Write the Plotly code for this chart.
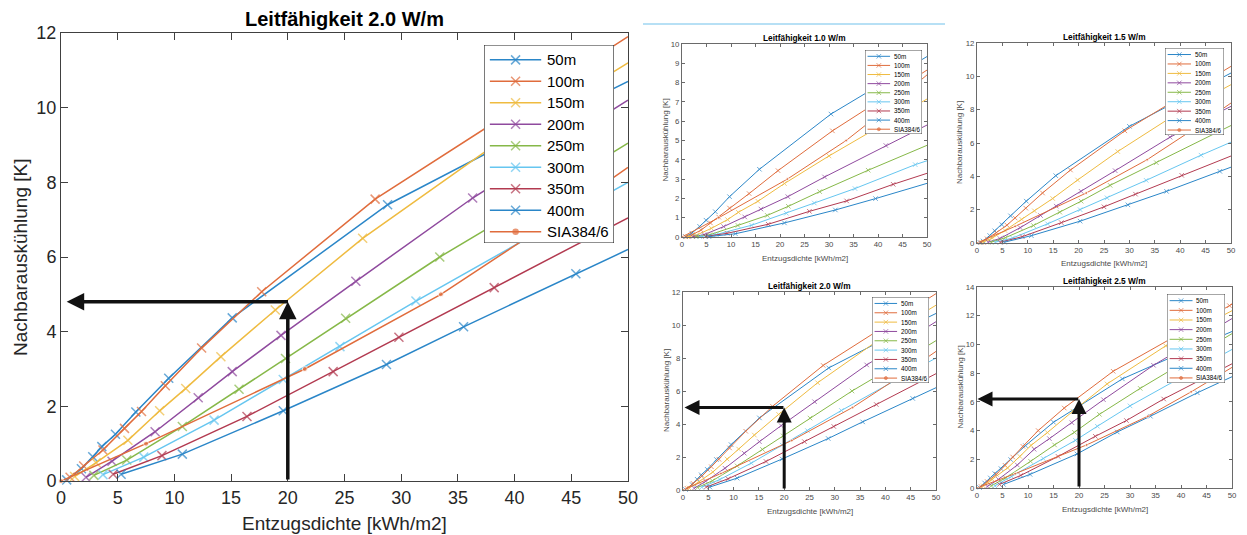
import plotly.graph_objects as go

W, H = 1247, 535
OFF = 8  # Seitenrand des Browsers (body margin)

DEPTHS = ["50m", "100m", "150m", "200m", "250m", "300m", "350m", "400m"]
SIA_NAME = "SIA384/6"
TITLES = ["Leitfähigkeit 2.0 W/m", "Leitfähigkeit 1.0 W/m", "Leitfähigkeit 1.5 W/m",
          "Leitfähigkeit 2.0 W/m", "Leitfähigkeit 2.5 W/m"]
X_TITLE = "Entzugsdichte [kWh/m2]"
Y_TITLE = "Nachbarauskühlung [K]"
X_TICKS = [0, 5, 10, 15, 20, 25, 30, 35, 40, 45, 50]

# --- Leitfähigkeit 1.0 W/m ---
K10_X = [
    [0.7, 2.0, 3.6, 4.9, 6.8, 9.7, 15.8, 30.4, 42.0, 50],
    [0.8, 2.1, 3.9, 5.8, 7.5, 9.7, 13.7, 19.6, 30.7, 42.0, 50],
    [1.2, 3.0, 6.0, 9.3, 11.5, 15.5, 20.9, 30.0, 40.5, 50],
    [2.2, 4.5, 8.5, 12.8, 16.1, 21.6, 29.1, 41.6, 50],
    [2.9, 5.7, 11.4, 17.4, 21.7, 28.1, 38.0, 50],
    [3.6, 7.0, 14.2, 21.3, 27.0, 35.3, 47.6, 50],
    [4.8, 9.2, 17.6, 26.0, 33.6, 43.1, 50],
    [5.5, 10.9, 20.9, 31.3, 39.5, 50],
]
K10_Y = [
    [0.02, 0.2, 0.55, 0.87, 1.31, 2.09, 3.51, 6.37, 8.15, 9.35],
    [0.01, 0.12, 0.36, 0.73, 1.03, 1.5, 2.25, 3.44, 5.5, 7.34, 8.65],
    [0.01, 0.1, 0.45, 0.9, 1.28, 1.85, 2.77, 4.2, 5.75, 7.15],
    [0.02, 0.12, 0.54, 1.04, 1.45, 2.09, 3.11, 4.74, 5.8],
    [0.02, 0.12, 0.6, 1.12, 1.59, 2.35, 3.46, 4.75],
    [0.02, 0.13, 0.61, 1.23, 1.76, 2.51, 3.75, 3.95],
    [0.03, 0.19, 0.66, 1.33, 1.87, 2.73, 3.3],
    [0.02, 0.17, 0.73, 1.4, 1.99, 2.78],
]

# --- Leitfähigkeit 1.5 W/m ---
K15_X = [
    [0.6, 1.2, 2.5, 3.5, 4.9, 6.6, 9.7, 15.5, 30.0, 40.0, 50],
    [0.8, 2.0, 3.8, 5.9, 7.5, 9.6, 12.9, 18.4, 29.1, 40.0, 50],
    [1.2, 3.0, 5.5, 8.8, 11.3, 14.9, 19.8, 27.7, 38.5, 50],
    [2.2, 4.5, 8.5, 12.5, 15.6, 20.5, 27.2, 38.0, 50],
    [2.8, 5.6, 11.1, 16.3, 20.5, 26.2, 35.3, 50],
    [3.6, 7.0, 13.9, 20.3, 25.6, 33.3, 44.1, 50],
    [4.6, 8.9, 16.6, 25.0, 31.2, 40.3, 50],
    [5.4, 10.7, 20.3, 29.7, 37.3, 47.8, 50],
]
K15_Y = [
    [0.02, 0.12, 0.45, 0.73, 1.1, 1.63, 2.51, 4.04, 7.0, 8.6, 10.2],
    [0.03, 0.25, 0.62, 1.07, 1.5, 2.09, 3.0, 4.38, 6.73, 8.75, 10.6],
    [0.04, 0.3, 0.75, 1.42, 1.93, 2.67, 3.78, 5.49, 7.6, 9.5],
    [0.05, 0.27, 0.92, 1.65, 2.21, 3.1, 4.34, 6.35, 8.2],
    [0.05, 0.32, 1.05, 1.85, 2.51, 3.46, 4.82, 7.05],
    [0.05, 0.3, 1.15, 2.0, 2.71, 3.76, 5.27, 6.05],
    [0.05, 0.38, 1.22, 2.17, 2.93, 4.06, 5.22],
    [0.05, 0.44, 1.31, 2.29, 3.1, 4.3, 4.55],
]

# --- Leitfähigkeit 2.0 W/m ---
K20_X = [
    [0.5, 1.8, 2.8, 3.6, 4.8, 6.6, 9.5, 15.1, 28.8, 44.0, 50],
    [0.8, 2.0, 3.7, 5.6, 7.1, 9.2, 12.4, 17.7, 27.7, 40.0, 50],
    [1.2, 3.1, 5.9, 8.7, 11.0, 14.1, 18.9, 26.6, 38.0, 50],
    [2.2, 4.5, 8.3, 12.1, 15.1, 19.4, 26.0, 36.3, 50],
    [2.9, 5.8, 10.7, 15.7, 19.8, 25.1, 33.4, 42.5, 50],
    [3.7, 7.3, 13.5, 19.6, 24.6, 31.3, 42.0, 50],
    [4.6, 8.9, 16.4, 24.0, 29.8, 38.2, 50],
    [5.3, 10.7, 19.6, 28.7, 35.5, 45.4, 50],
]
K20_Y = [
    [0.03, 0.33, 0.65, 0.92, 1.25, 1.85, 2.75, 4.37, 7.4, 9.8, 10.7],
    [0.1, 0.4, 0.83, 1.41, 1.86, 2.55, 3.56, 5.07, 7.55, 9.95, 11.9],
    [0.12, 0.49, 1.09, 1.88, 2.48, 3.33, 4.58, 6.5, 8.95, 11.2],
    [0.1, 0.53, 1.32, 2.23, 2.93, 3.9, 5.35, 7.58, 10.2],
    [0.15, 0.56, 1.46, 2.46, 3.28, 4.36, 6.0, 7.65, 9.05],
    [0.17, 0.64, 1.63, 2.72, 3.6, 4.82, 6.65, 8.0],
    [0.18, 0.68, 1.73, 2.93, 3.85, 5.18, 7.05],
    [0.18, 0.72, 1.88, 3.12, 4.13, 5.55, 6.2],
]

# --- Leitfähigkeit 2.5 W/m ---
K25_X = [
    [0.5, 1.5, 2.6, 3.5, 4.7, 6.6, 9.5, 15.0, 28.5, 40.0, 50],
    [0.8, 2.0, 3.8, 5.5, 7.0, 9.0, 12.0, 17.1, 26.7, 38.0, 49.5, 50],
    [1.2, 3.0, 6.0, 8.4, 10.6, 13.8, 18.8, 25.5, 37.0, 50],
    [2.0, 4.2, 7.9, 11.2, 14.2, 18.6, 24.8, 34.6, 50],
    [2.8, 5.6, 10.5, 15.2, 19.1, 24.0, 32.0, 42.0, 50],
    [3.5, 6.8, 13.0, 19.3, 23.6, 30.0, 40.0, 50],
    [4.4, 8.6, 15.9, 23.2, 29.3, 36.6, 50],
    [5.2, 10.4, 19.6, 27.5, 34.0, 43.2, 50],
]
K25_Y = [
    [0.03, 0.35, 0.7, 1.0, 1.35, 1.98, 2.95, 4.58, 7.6, 9.4, 10.9],
    [0.1, 0.45, 0.95, 1.58, 2.16, 2.9, 4.0, 5.57, 8.13, 10.4, 12.7, 12.8],
    [0.15, 0.6, 1.4, 2.2, 2.97, 3.86, 5.35, 7.25, 9.9, 12.35],
    [0.1, 0.6, 1.6, 2.7, 3.44, 4.55, 6.15, 8.55, 11.8],
    [0.15, 0.7, 1.86, 3.0, 3.88, 5.13, 6.94, 9.05, 10.75],
    [0.15, 0.8, 2.05, 3.32, 4.3, 5.72, 7.7, 9.65],
    [0.25, 0.88, 2.2, 3.6, 4.7, 6.2, 8.65],
    [0.25, 0.95, 2.37, 3.9, 5.0, 6.63, 7.75],
]

# --- Richtwert SIA 384/6 (gleich in allen Diagrammen) ---
SIA_X = [0, 7.5, 21.5, 33.5, 42.0, 50]
SIA_Y = [0, 1.0, 3.0, 5.0, 6.7, 8.4]

# --- Ablesepfeile (x = Entzugsdichte, y = Nachbarauskühlung) ---
ARROW_K20_BIG = [20, 4.8]
ARROW_K20_SMALL = [20, 5.0]
ARROW_K25 = [20, 6.2]

COLORS = ["#2a86c8", "#e06c3c", "#efbb40", "#8f4a9e", "#86b848", "#66c6f0", "#b23a50", "#2a86c8"]
SIA_COLOR = "#e06c3c"
FONT = "Liberation Sans, Arial, sans-serif"


def px(x):
    return (x - OFF) / W


def py(y):
    return 1 - (y - OFF) / H


BIG = dict(tick=18, axis=19, title=20, leg=15, lw=1.5, ms=9, mlw=1.5, sia_ms=5,
           ticklen=7, arrow_w=3.5, xt_off=42, yt_off=41, title_off=14, legw=1.2,
           ax_color="#404040", txt="#262626")
SMALL = dict(tick=7.8, axis=8, title=8.3, leg=6.3, lw=1, ms=4.5, mlw=1, sia_ms=3,
             ticklen=3, arrow_w=3, xt_off=21, yt_off=17, title_off=6, legw=0.8,
             ax_color="#6a6a6a", txt="#4a4a4a")

# box = (links, oben, rechts, unten) in Pixeln
panels = [
    dict(xs=K20_X, ys=K20_Y, title=TITLES[0], box=(61, 33, 628, 481), ymax=12, dy=2,
         leg=(484, 45, 614, 243), arrow=ARROW_K20_BIG, tip=0.5, st=BIG),
    dict(xs=K10_X, ys=K10_Y, title=TITLES[1], box=(682, 44, 927, 237), ymax=10, dy=1,
         leg=(865, 50, 922, 134), arrow=None, tip=0, st=SMALL),
    dict(xs=K15_X, ys=K15_Y, title=TITLES[2], box=(977, 43, 1231, 243), ymax=12, dy=2,
         leg=(1165, 48, 1224, 135), arrow=None, tip=0, st=SMALL),
    dict(xs=K20_X, ys=K20_Y, title=TITLES[3], box=(683, 292, 936, 490), ymax=12, dy=2,
         leg=(872, 297, 929, 383), arrow=ARROW_K20_SMALL, tip=0.3, st=SMALL),
    dict(xs=K25_X, ys=K25_Y, title=TITLES[4], box=(977, 287, 1232, 488), ymax=14, dy=2,
         leg=(1167, 294, 1225, 383), arrow=ARROW_K25, tip=0.1, st=SMALL),
]

fig = go.Figure()
layout = {}
annotations = []
shapes = []
n = len(panels)

for i, p in enumerate(panels):
    st = p["st"]
    k = i + 1
    xa, ya = ("x", "y") if k == 1 else (f"x{k}", f"y{k}")
    kl = k + n
    lxa, lya = f"x{kl}", f"y{kl}"
    l, t, r, b = p["box"]

    axis_common = dict(
        showline=True, linecolor=st["ax_color"], linewidth=1, mirror="ticks",
        ticks="inside", ticklen=st["ticklen"], tickcolor=st["ax_color"], tickwidth=1,
        showgrid=False, zeroline=False, automargin=False,
        tickfont=dict(family=FONT, size=st["tick"], color=st["txt"]),
    )
    layout["xaxis" if k == 1 else f"xaxis{k}"] = dict(
        domain=[px(l), px(r)], range=[0, 50], tickvals=X_TICKS, anchor=ya, **axis_common)
    layout["yaxis" if k == 1 else f"yaxis{k}"] = dict(
        domain=[py(b), py(t)], range=[0, p["ymax"]], dtick=p["dy"], tick0=0, anchor=xa,
        **axis_common)

    # Kurven der Sondentiefen
    for j, name in enumerate(DEPTHS):
        xs, ys = p["xs"][j], p["ys"][j]
        sizes = [st["ms"]] * (len(xs) - 1) + [0]
        fig.add_trace(go.Scatter(
            x=xs, y=ys, xaxis=xa, yaxis=ya, mode="lines+markers", name=name,
            line=dict(color=COLORS[j], width=st["lw"]),
            marker=dict(symbol="x-thin", size=sizes,
                        line=dict(color=COLORS[j], width=st["mlw"])),
            cliponaxis=False, showlegend=False,
        ))
    fig.add_trace(go.Scatter(
        x=SIA_X, y=SIA_Y, xaxis=xa, yaxis=ya, mode="lines+markers", name=SIA_NAME,
        line=dict(color=SIA_COLOR, width=st["lw"]),
        marker=dict(symbol="circle", size=[st["sia_ms"]] * (len(SIA_X) - 1) + [0],
                    color=SIA_COLOR),
        cliponaxis=False, showlegend=False,
    ))

    # Titel und Achsenbeschriftungen
    cx = (l + r) / 2
    annotations.append(dict(
        text=f"<b>{p['title']}</b>", xref="paper", yref="paper", x=px(cx),
        y=py(t - st["title_off"]), xanchor="center", yanchor="middle", showarrow=False,
        font=dict(family=FONT, size=st["title"], color="#000")))
    annotations.append(dict(
        text=X_TITLE, xref="paper", yref="paper", x=px(cx), y=py(b + st["xt_off"]),
        xanchor="center", yanchor="middle", showarrow=False,
        font=dict(family=FONT, size=st["axis"], color=st["txt"])))
    annotations.append(dict(
        text=Y_TITLE, xref="paper", yref="paper", x=px(l - st["yt_off"]),
        y=py((t + b) / 2), xanchor="center", yanchor="middle", textangle=-90,
        showarrow=False, font=dict(family=FONT, size=st["axis"], color=st["txt"])))

    # Ablesepfeile
    if p["arrow"]:
        ax_v, ay_v = p["arrow"]
        arrow_common = dict(xref=xa, yref=ya, axref=xa, ayref=ya, text="", showarrow=True,
                            arrowhead=2, arrowsize=1, arrowwidth=st["arrow_w"],
                            arrowcolor="#111", standoff=0)
        annotations.append(dict(x=ax_v, y=ay_v, ax=ax_v, ay=0, **arrow_common))
        annotations.append(dict(x=p["tip"], y=ay_v, ax=ax_v + 0.15, ay=ay_v, **arrow_common))

    # Legende als eigenes Achsenpaar über dem Diagramm
    ll, lt, lr, lb = p["leg"]
    hidden = dict(range=[0, 1], visible=False, fixedrange=True)
    layout[f"xaxis{kl}"] = dict(hidden, domain=[px(ll), px(lr)], anchor=lya)
    layout[f"yaxis{kl}"] = dict(hidden, domain=[py(lb), py(lt)], anchor=lxa)
    fig.add_trace(go.Scatter(
        x=[0, 1, 1, 0, 0], y=[0, 0, 1, 1, 0], xaxis=lxa, yaxis=lya, mode="lines",
        fill="toself", fillcolor="white", line=dict(color="#222", width=st["legw"]),
        showlegend=False, hoverinfo="skip", cliponaxis=False,
    ))
    names = DEPTHS + [SIA_NAME]
    for j, name in enumerate(names):
        yc = 1 - (0.075 + j * 0.1085)
        is_sia = j == len(DEPTHS)
        col = SIA_COLOR if is_sia else COLORS[j]
        fig.add_trace(go.Scatter(
            x=[0.045, 0.243, 0.44], y=[yc] * 3, xaxis=lxa, yaxis=lya,
            mode="lines+markers", line=dict(color=col, width=st["lw"]),
            marker=dict(symbol="circle" if is_sia else "x-thin",
                        size=[0, st["sia_ms"] if is_sia else st["ms"], 0], color=col,
                        line=dict(color=col, width=st["mlw"])),
            showlegend=False, hoverinfo="skip",
        ))
        annotations.append(dict(
            text=name, xref=lxa, yref=lya, x=0.47, y=yc, xanchor="left", yanchor="middle",
            showarrow=False, font=dict(family=FONT, size=st["leg"], color="#000")))

# hellblaue Trennlinie oben
shapes.append(dict(type="line", xref="paper", yref="paper", x0=px(643), x1=px(945),
                   y0=py(24), y1=py(24), line=dict(color="#9fd6f2", width=1.5)))

fig.update_layout(
    template="none",
    width=W, height=H, margin=dict(l=0, r=0, t=0, b=0),
    paper_bgcolor="white", plot_bgcolor="white", showlegend=False,
    annotations=annotations, shapes=shapes, **layout,
)

fig.write_html("out.html")
